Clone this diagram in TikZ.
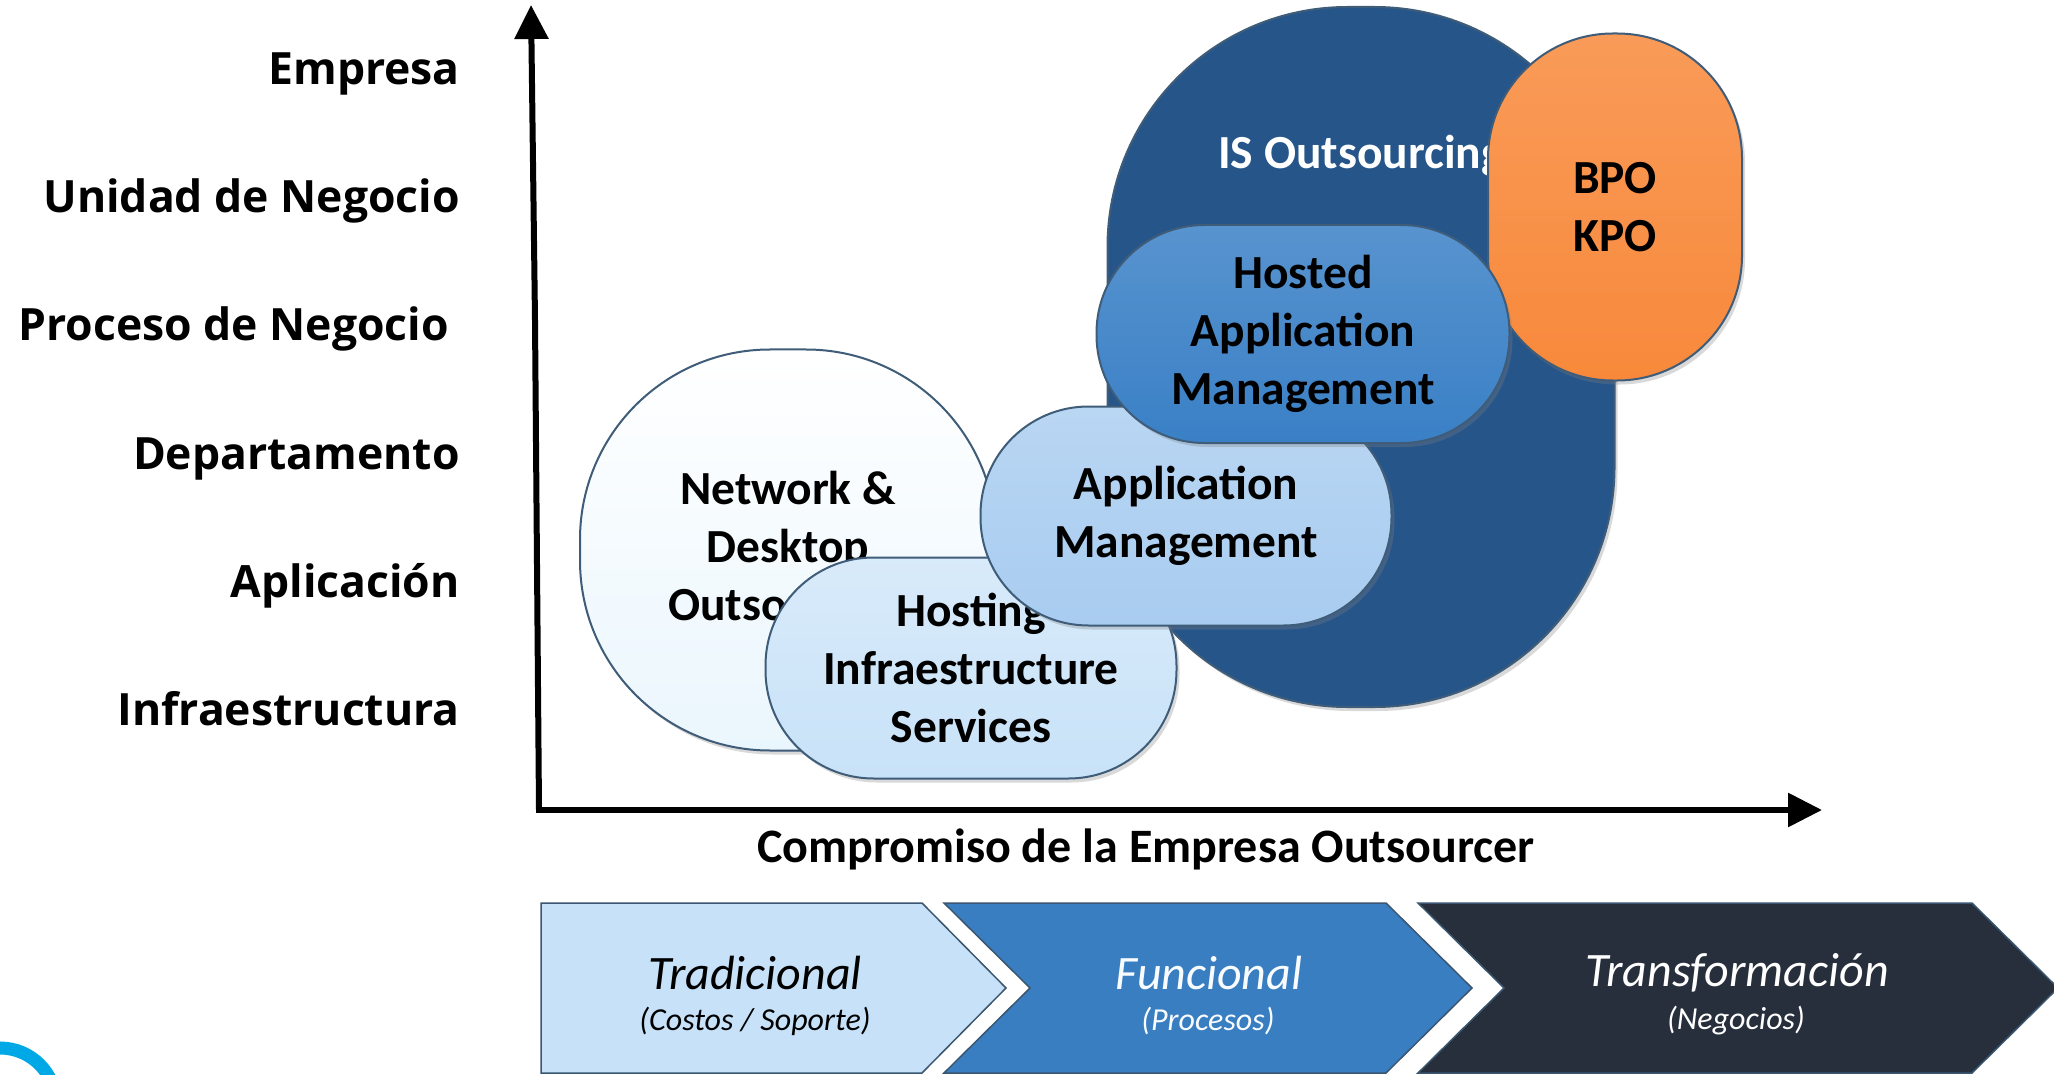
\documentclass[tikz,border=0pt]{standalone}
\usepackage{fontspec}
\setmainfont{Carlito}
\newfontfamily\tierfont{Open Sans}
\usetikzlibrary{arrows.meta,positioning,shadows}

\definecolor{isblue}{HTML}{26558A}
\definecolor{hostedblue}{HTML}{3A80C6}
\definecolor{appblue}{HTML}{A8CCF0}
\definecolor{hostingblue}{HTML}{C8E2F8}
\definecolor{netblue}{HTML}{EAF6FD}
\definecolor{bpoorange}{HTML}{F8893B}
\definecolor{bubbleline}{HTML}{3F5C78}
\definecolor{chevline}{HTML}{3B5670}
\definecolor{tradfill}{HTML}{C6E1F8}
\definecolor{funcfill}{HTML}{3A7EC2}
\definecolor{transfill}{HTML}{272F3C}
\definecolor{logocyan}{HTML}{00A9E6}

\begin{document}
\begin{tikzpicture}[
    x=1pt,y=-1pt,
    tier/.style={font=\tierfont\bfseries\fontsize{44.5}{52}\selectfont,anchor=base east,inner sep=0pt},
    bubble/.style={rectangle,draw=bubbleline,line width=2pt,align=center,inner sep=0pt,
        font=\bfseries\fontsize{47.5}{58}\selectfont,
        drop shadow={shadow xshift=3pt,shadow yshift=-4pt,opacity=.3}},
    axisline/.style={line width=6pt,-{Triangle[length=34pt,width=33pt]}},
    chevron/.style={draw=chevline,line width=1.5pt},
    phase/.style={font=\itshape\fontsize{48}{52}\selectfont},
    phasenote/.style={font=\itshape\fontsize{32}{36}\selectfont}
]
\clip (0,0) rectangle (2054,1075);

% Levels on the vertical axis
\node[tier] (empresa) at (460,85) {Empresa};
\node[tier,below=128pt of empresa.base east,anchor=base east] (unidad) {Unidad de Negocio};
\node[tier,below=128pt of unidad.base east,anchor=base east,xshift=-11pt] (proceso) {Proceso de Negocio};
\node[tier,below=256pt of unidad.base east,anchor=base east] (depto) {Departamento};
\node[tier,below=128pt of depto.base east,anchor=base east] (aplic) {Aplicación};
\node[tier,below=128pt of aplic.base east,anchor=base east] (infra) {Infraestructura};

% Axes
\coordinate (origin) at (539,810);
\coordinate (ybend) at (535,320);
\coordinate (ytop) at (531,5);
\coordinate (xend) at (1822,810);
\draw[axisline] (origin) -- (ybend) -- (ytop);
\draw[axisline] ([xshift=-3pt]origin) -- (xend);
\node[font=\bfseries\fontsize{48}{56}\selectfont] (compromiso) at (1146,849) {Compromiso de la Empresa Outsourcer};

% Bubbles
\node[bubble,fill=isblue,minimum width=507pt,minimum height=700pt,rounded corners=240pt] (isout) at (1361,357) {};
\node[font=\bfseries\fontsize{47.5}{56}\selectfont,text=white] (isoutlabel) at (1361,156) {IS Outsourcing};
\node[bubble,top color=bpoorange!85!white,bottom color=bpoorange,minimum width=254pt,minimum height=347pt,rounded corners=125pt] (bpo) at (1615,207) {BPO\\KPO};
\node[bubble,top color=white,bottom color=netblue,minimum width=416pt,minimum height=401pt,rounded corners=190pt] (network) at (788,550) {Network \&\\Desktop\\Outsourcing};
\node[bubble,top color=hostingblue!70!white,bottom color=hostingblue,minimum width=411pt,minimum height=221pt,rounded corners=108pt] (hosting) at (971,668) {Hosting\\Infraestructure\\Services};
\node[bubble,top color=appblue!80!white,bottom color=appblue,minimum width=411pt,minimum height=219pt,rounded corners=108pt] (appmgmt) at (1186,516) {Application\\Management};
\node[bubble,top color=hostedblue!85!white,bottom color=hostedblue,minimum width=413pt,minimum height=218pt,rounded corners=108pt] (hosted) at (1303,334) {Hosted\\Application\\Management};

% Phases
\draw[chevron,fill=tradfill] (541,903) -- (922,903) -- (1006,988) -- (922,1073) -- (541,1073) -- cycle;
\draw[chevron,fill=funcfill] (944,903) -- (1386,903) -- (1472,988) -- (1386,1073) -- (944,1073) -- (1030,988) -- cycle;
\draw[chevron,fill=transfill] (1418,903) -- (1972,903) -- (2058,988) -- (1972,1073) -- (1418,1073) -- (1504,988) -- cycle;
\node[phase] (trad) at (755,973) {Tradicional};
\node[phasenote] (tradnote) at (755,1021) {(Costos / Soporte)};
\node[phase,text=white!90!tradfill] (func) at (1209,973) {Funcional};
\node[phasenote,text=white!90!tradfill] (funcnote) at (1208,1021) {(Procesos)};
\node[phase,text=white] (trans) at (1737,973) {Transformación};
\node[phasenote,text=white] (transnote) at (1736,1021) {(Negocios)};

% Logo fragment
\coordinate (logo) at (0,1104);
\draw[logocyan,line width=13pt] (logo) circle (56);
\end{tikzpicture}
\end{document}
